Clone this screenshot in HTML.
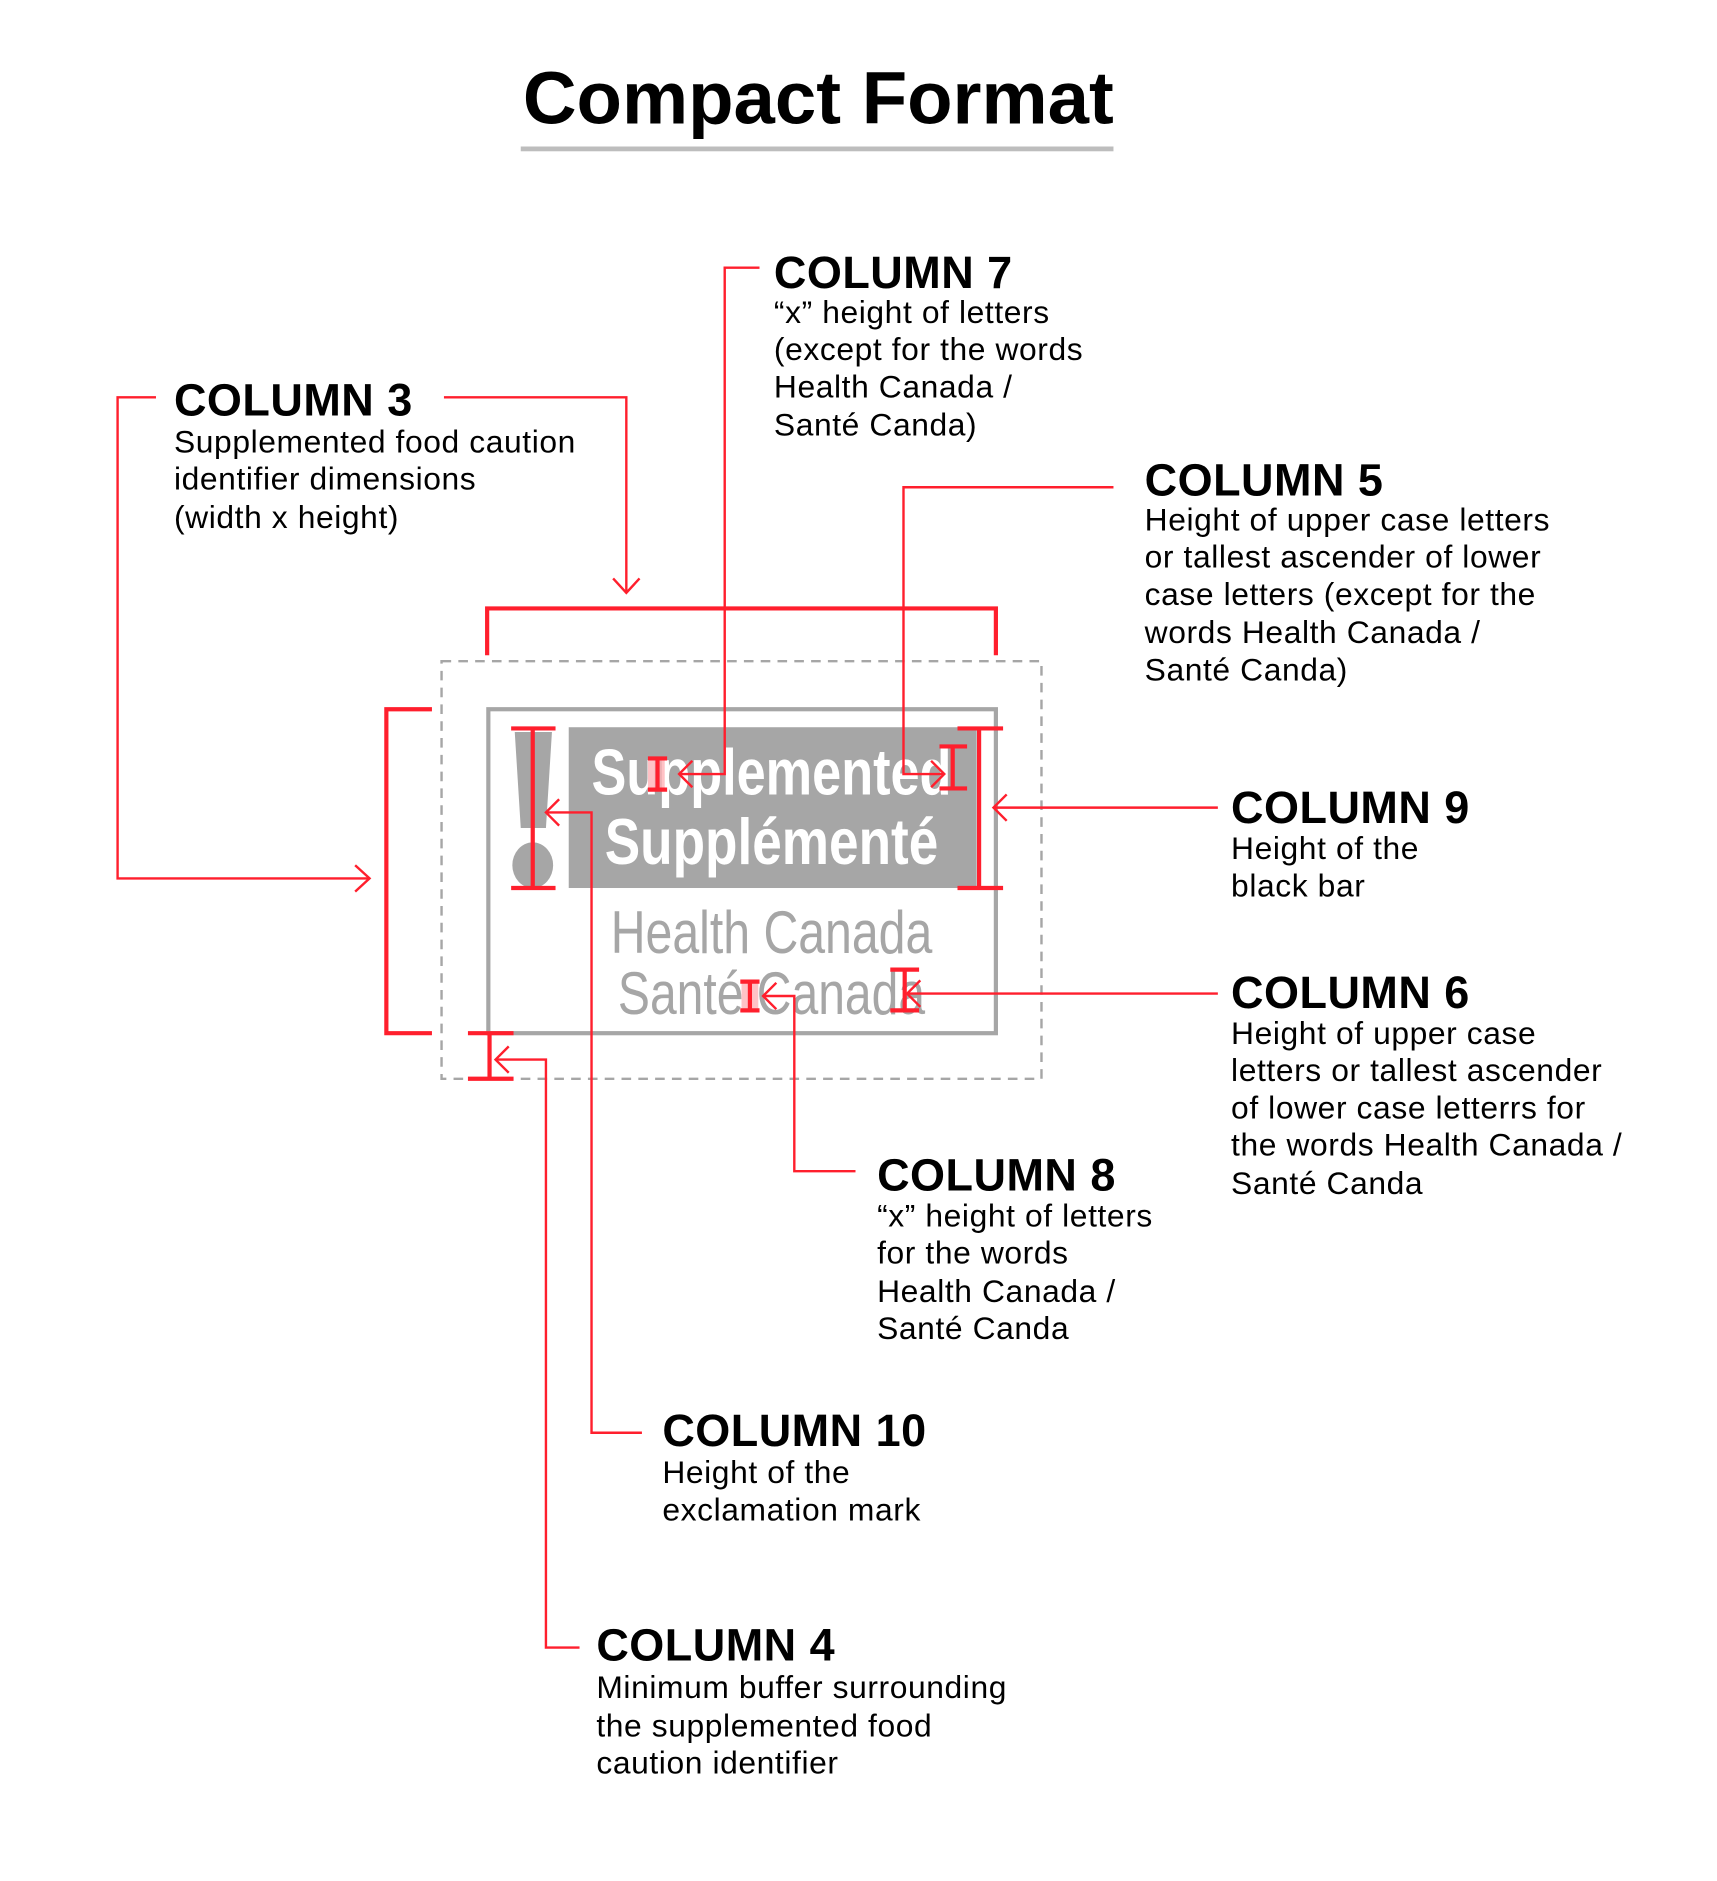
<!DOCTYPE html>
<html><head><meta charset="utf-8"><style>
html,body{margin:0;padding:0;background:#fff;}
svg{display:block;}
text{font-family:"Liberation Sans",Arial,sans-serif;}
.h{font-size:37.5px;font-weight:bold;fill:#000;letter-spacing:0.4px;}
.b{font-size:26.5px;fill:#000;letter-spacing:0.5px;}
.r{stroke:#ff1f2d;fill:none;stroke-width:2;}
.rt{stroke:#ff1f2d;fill:none;stroke-width:3.5;}
</style></head><body>
<svg width="1717" height="1881" viewBox="0 0 1431 1567.5" xmlns="http://www.w3.org/2000/svg">
<text x="682" y="103" text-anchor="middle" style="font-size:62px;font-weight:bold">Compact Format</text>
<rect x="434" y="122" width="494" height="4" fill="#bdbdbd"/>

<rect x="368" y="551" width="500" height="348" fill="none" stroke="#a6a6a6" stroke-width="2" stroke-dasharray="8,6"/>
<rect x="407" y="591" width="423" height="270" fill="none" stroke="#a6a6a6" stroke-width="3.5"/>
<rect x="474" y="606" width="340" height="134" fill="#a6a6a6"/>
<text x="643" y="662" text-anchor="middle" fill="#fff" style="font-size:54px;font-weight:bold" textLength="300" lengthAdjust="spacingAndGlyphs">Supplemented</text>
<text x="643" y="720" text-anchor="middle" fill="#fff" style="font-size:54px;font-weight:bold" textLength="278" lengthAdjust="spacingAndGlyphs">Supplémenté</text>
<polygon points="429,610 460,610 455,690 434,690" fill="#a6a6a6"/>
<ellipse cx="444" cy="721" rx="17" ry="19" fill="#a6a6a6"/>
<text x="643" y="794" text-anchor="middle" fill="#a6a6a6" style="font-size:50px" textLength="268" lengthAdjust="spacingAndGlyphs">Health Canada</text>
<text x="643" y="845" text-anchor="middle" fill="#a6a6a6" style="font-size:50px" textLength="256" lengthAdjust="spacingAndGlyphs">Santé Canada</text>
<rect x="540" y="632" width="14" height="26" fill="#ffb3b8" opacity="0.8"/>
<rect x="618" y="818" width="14" height="24" fill="#ffb3b8" opacity="0.8"/>

<path class="r" d="M130,331 H98 V732 H308"/><path class="r" d="M296,721 L308,732 L296,743"/>
<path class="r" d="M370,331 H522 V494"/><path class="r" d="M511,482 L522,494 L533,482"/>
<path class="rt" d="M406,546 V507 H830 V546"/>
<path class="rt" d="M360,591 H322 V861 H360"/>
<path class="rt" d="M408,861 V899 M390,861 H428 M390,899 H428"/>
<path class="r" d="M413,883 H455 V1373 H483"/><path class="r" d="M424,872 L413,883 L424,894"/>
<path class="rt" d="M444,607 V740 M426,607 H463 M426,740 H463"/>
<path class="r" d="M455,677 H493 V1194 H535"/><path class="r" d="M466,666 L455,677 L466,688"/>
<path class="rt" d="M816,607 V740 M798,607 H836 M798,740 H836"/>
<path class="r" d="M1015,673 H828"/><path class="r" d="M839,662 L828,673 L839,684"/>
<path class="rt" d="M548,632 V658 M540,632 H556 M540,658 H556"/>
<path class="r" d="M566,645 H604 V223 H633"/><path class="r" d="M577,634 L566,645 L577,656"/>
<path class="rt" d="M794,622 V657 M783,622 H806 M783,657 H806"/>
<path class="r" d="M928,406 H753 V645 H787"/><path class="r" d="M776,634 L787,645 L776,656"/>
<path class="rt" d="M625,818 V842 M617,818 H633 M617,842 H633"/>
<path class="r" d="M636,830 H662 V976 H713"/><path class="r" d="M647,819 L636,830 L647,841"/>
<path class="rt" d="M754,808 V842 M742,808 H766 M742,842 H766"/>
<path class="r" d="M1015,828 H756"/><path class="r" d="M767,817 L756,828 L767,839"/>

<text class="h" x="145" y="346">COLUMN 3</text>
<text class="b" x="145" y="377">Supplemented food caution</text>
<text class="b" x="145" y="408">identifier dimensions</text>
<text class="b" x="145" y="440">(width x height)</text>

<text class="h" x="645" y="240">COLUMN 7</text>
<text class="b" x="645" y="269">“x” height of letters</text>
<text class="b" x="645" y="300">(except for the words</text>
<text class="b" x="645" y="331">Health Canada /</text>
<text class="b" x="645" y="363">Santé Canda)</text>

<text class="h" x="954" y="413">COLUMN 5</text>
<text class="b" x="954" y="442">Height of upper case letters</text>
<text class="b" x="954" y="473">or tallest ascender of lower</text>
<text class="b" x="954" y="504">case letters (except for the</text>
<text class="b" x="954" y="536">words Health Canada /</text>
<text class="b" x="954" y="567">Santé Canda)</text>

<text class="h" x="1026" y="686">COLUMN 9</text>
<text class="b" x="1026" y="716">Height of the</text>
<text class="b" x="1026" y="747">black bar</text>

<text class="h" x="1026" y="840">COLUMN 6</text>
<text class="b" x="1026" y="870">Height of upper case</text>
<text class="b" x="1026" y="901">letters or tallest ascender</text>
<text class="b" x="1026" y="932">of lower case letterrs for</text>
<text class="b" x="1026" y="963">the words Health Canada /</text>
<text class="b" x="1026" y="995">Santé Canda</text>

<text class="h" x="731" y="992">COLUMN 8</text>
<text class="b" x="731" y="1022">“x” height of letters</text>
<text class="b" x="731" y="1053">for the words</text>
<text class="b" x="731" y="1085">Health Canada /</text>
<text class="b" x="731" y="1116">Santé Canda</text>

<text class="h" x="552" y="1205">COLUMN 10</text>
<text class="b" x="552" y="1236">Height of the</text>
<text class="b" x="552" y="1267">exclamation mark</text>

<text class="h" x="497" y="1384">COLUMN 4</text>
<text class="b" x="497" y="1415">Minimum buffer surrounding</text>
<text class="b" x="497" y="1447">the supplemented food</text>
<text class="b" x="497" y="1478">caution identifier</text>
</svg>
</body></html>
